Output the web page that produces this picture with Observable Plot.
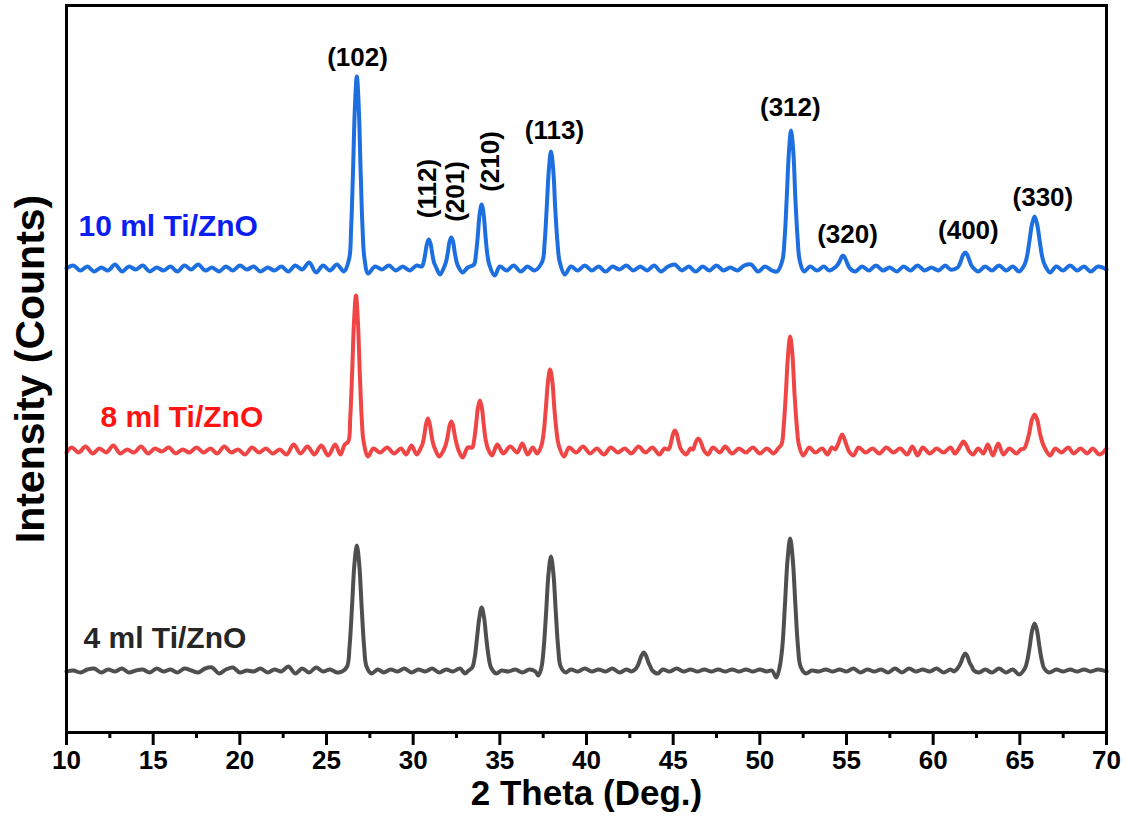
<!DOCTYPE html>
<html><head><meta charset="utf-8">
<script src="https://cdn.jsdelivr.net/npm/d3@7"></script>
<script src="https://cdn.jsdelivr.net/npm/@observablehq/plot@0.6"></script>
<style>html,body{margin:0;padding:0;background:#fff;} svg{display:block}</style>
</head><body><div id="chart"></div>
<script>
// x-axis ticks
const xTicks = [10,15,20,25,30,35,40,45,50,55,60,65,70];
const xMinorTicks = [12.5,17.5,22.5,27.5,32.5,37.5,42.5,47.5,52.5,57.5,62.5,67.5];

// series
const seriesNames = ["10 ml Ti/ZnO", "8 ml Ti/ZnO", "4 ml Ti/ZnO"];
const seriesOffsets = [464, 282, 62];
const seriesColors = ["#1d6fe0", "#f04545", "#4f4f4f"];
const seriesLabelColors = ["#0b1ef2", "#ff1414", "#262626"];
const seriesLabelX = [10.69, 11.96, 10.98];
const seriesLabelY = [506, 315, 94];

// [2 theta, intensity above baseline]
const ti10ml = [[10,0],[10.4,3],[10.8,-2],[11.2,2],[11.6,-3],[12,1],[12.4,-2],[12.8,4],[13.2,-3],[13.6,2],[14,-1],[14.4,3],[14.8,-3],[15.2,1],[15.6,-2],[16,2],[16.4,-3],[16.8,3],[17.2,-1],[17.6,4],[18,-2],[18.4,1],[18.8,-3],[19.2,2],[19.6,-2],[20,3],[20.4,-1],[20.8,2],[21.2,-3],[21.6,1],[22,-2],[22.4,2],[22.8,-3],[23.2,3],[23.6,-1],[24,6],[24.4,-4],[24.8,3],[25.2,-2],[25.6,4],[26,-3],
[26.31,10],[26.42,40],[26.53,97],[26.64,162],[26.75,192],[26.86,162],[26.97,97],[27.08,40],[27.19,10],
[27.4,-5],[27.8,2],[28.2,-1],[28.6,3],[29,-2],[29.4,2],[29.8,-2],[30.2,3],
[30.5,2],[30.6,6],[30.7,15],[30.8,25],[30.9,29],[31,25],[31.1,15],[31.2,6],[31.3,2],
[31.55,-6],
[31.8,2],[31.9,7],[32,16],[32.1,27],[32.2,31],[32.3,27],[32.4,16],[32.5,7],[32.6,2],
[32.85,-4],[33.15,1],
[33.51,4],[33.62,14],[33.73,33],[33.84,55],[33.95,64],[34.06,55],[34.17,33],[34.28,14],[34.39,4],
[34.7,-7],[35,2],[35.4,-2],[35.8,3],[36.2,-3],[36.6,2],[37,-2],
[37.45,7],[37.58,25],[37.7,59],[37.83,99],[37.95,117],[38.08,99],[38.2,59],[38.33,25],[38.45,7],
[38.75,-6],[39.1,2],[39.5,-2],[39.9,3],[40.3,-2],[40.7,2],[41.1,-3],[41.5,2],[41.9,-1],[42.3,3],[42.7,-2],[43.1,2],[43.5,-2],[43.9,3],[44.3,-3],[44.7,2],[45.1,4],[45.5,-2],[45.9,2],[46.3,-3],[46.7,2],[47.1,-2],[47.5,3],[47.9,-2],[48.3,1],[48.7,-2],[49.1,3],[49.5,4],[49.9,-3],[50.3,2],[50.7,-2],[51,-3],
[51.3,8],[51.43,30],[51.55,70],[51.68,117],[51.8,138],[51.93,117],[52.05,70],[52.18,30],[52.3,8],
[52.55,-3],[52.9,2],[53.3,-2],[53.7,2],[54,-2],
[54.4,2],[54.5,4],[54.6,7],[54.7,11],[54.8,13],[54.9,11],[55,7],[55.1,3],[55.2,0],
[55.5,-3],[55.9,2],[56.3,-2],[56.7,3],[57.1,-2],[57.5,1],[57.9,-3],[58.3,2],[58.7,-2],[59.1,3],[59.5,-2],[59.9,1],[60.3,-2],[60.7,3],[61,-1],
[61.41,1],[61.52,4],[61.63,9],[61.74,14],[61.85,16],[61.96,14],[62.07,9],[62.18,4],[62.29,1],
[62.6,-3],[63,2],[63.4,-2],[63.8,3],[64.2,-2],[64.6,2],[64.95,-3],
[65.25,3],[65.4,11],[65.55,27],[65.7,44],[65.85,52],[66,44],[66.15,27],[66.3,11],[66.45,3],
[66.75,-4],[67.1,2],[67.5,-2],[67.9,3],[68.3,-2],[68.7,2],[69.1,-3],[69.5,2],[70,-1]];

const ti8ml = [[10,-2],[10.3,3],[10.7,-2],[11.1,4],[11.5,-3],[11.9,2],[12.3,-2],[12.7,5],[13.1,-3],[13.5,1],[13.9,-2],[14.3,4],[14.7,-3],[15.1,2],[15.5,-1],[15.9,3],[16.3,-3],[16.7,1],[17.1,-2],[17.5,3],[17.9,-2],[18.3,2],[18.7,-3],[19.1,4],[19.5,-2],[19.9,1],[20.3,-4],[20.7,3],[21.1,-2],[21.5,2],[21.9,-3],[22.3,1],[22.7,-4],[23.1,6],[23.5,-3],[23.9,4],[24.3,-4],[24.7,5],[25.1,-5],[25.5,6],[25.8,-4],[26.05,6],
[26.26,9],[26.37,33],[26.48,78],[26.59,130],[26.7,155],[26.81,130],[26.92,78],[27.03,33],[27.14,9],
[27.4,-6],[27.7,2],[28.1,-2],[28.5,3],[28.9,-3],[29.3,2],[29.6,-4],[29.9,5],[30.2,-4],
[30.45,3],[30.55,7],[30.65,16],[30.75,27],[30.85,32],[30.95,27],[31.05,16],[31.15,7],[31.25,2],
[31.5,-6],
[31.8,2],[31.9,7],[32,15],[32.1,25],[32.2,29],[32.3,25],[32.4,15],[32.5,7],[32.6,1],
[32.85,-7],[33.15,3],
[33.41,3],[33.52,11],[33.63,26],[33.74,43],[33.85,50],[33.96,43],[34.07,26],[34.18,11],[34.29,3],
[34.55,-5],[34.85,6],[35.2,-3],[35.6,4],[36,-2],[36.3,7],[36.6,-4],[36.9,3],[37.15,-3],
[37.4,5],[37.53,18],[37.65,41],[37.78,69],[37.9,81],[38.03,69],[38.15,41],[38.28,18],[38.4,5],
[38.7,-6],[39,3],[39.4,-2],[39.8,4],[40.2,-3],[40.6,2],[41,-4],[41.4,3],[41.8,-2],[42.2,2],[42.6,-3],[43,4],[43.4,-2],[43.8,3],[44.2,-4],[44.5,2],
[44.7,1],[44.8,3],[44.9,10],[45,17],[45.1,20],[45.2,17],[45.3,10],[45.4,3],[45.5,0],
[45.75,-4],[46,2],
[46.15,1],[46.25,6],[46.35,10],[46.45,12],[46.55,10],[46.65,6],[46.75,1],
[47,-4],[47.3,3],[47.7,-2],[48,4],[48.4,-3],[48.8,2],[49.2,-2],[49.6,3],[50,-3],[50.4,2],[50.8,-3],[51.05,2],
[51.25,6],[51.38,25],[51.5,57],[51.63,96],[51.75,114],[51.88,96],[52,57],[52.13,25],[52.25,6],
[52.5,-5],[52.85,3],[53.2,-2],[53.6,2],[53.9,-4],[54.15,3],
[54.35,1],[54.45,4],[54.55,8],[54.65,13],[54.75,16],[54.85,13],[54.95,8],[55.05,3],[55.15,-1],
[55.4,-5],[55.7,3],[56.1,-2],[56.5,2],[56.9,-3],[57.3,3],[57.7,-2],[58.1,2],[58.5,-4],[58.8,4],[59.1,-5],[59.4,3],[59.8,-3],[60.2,2],[60.6,-2],[61,3],[61.25,-3],
[61.45,1],[61.55,4],[61.65,7],[61.75,9],[61.85,7],[61.95,4],[62.05,0],
[62.3,-4],[62.6,2],[62.9,-3],[63.15,6],[63.45,-5],[63.75,7],[64.05,-4],[64.4,2],[64.8,-3],[65.05,1],
[65.25,2],[65.4,8],[65.55,18],[65.7,31],[65.85,36],[66,31],[66.15,18],[66.3,8],[66.45,2],
[66.75,-5],[67.05,2],[67.4,-2],[67.8,3],[68.1,-3],[68.5,2],[68.9,-3],[69.2,2],[69.6,-4],[70,2]];

const ti4ml = [[10,-1],[10.4,0],[10.8,-2],[11.2,1],[11.6,2],[12,-2],[12.4,1],[12.8,-1],[13.2,2],[13.6,-2],[14,0],[14.4,1],[14.8,-2],[15.2,2],[15.6,-1],[16,1],[16.4,-2],[16.8,2],[17.2,0],[17.6,-2],[18,2],[18.4,3],[18.8,-3],[19.2,1],[19.6,3],[20,-2],[20.4,0],[20.8,-1],[21.2,2],[21.6,-2],[22,1],[22.4,-1],[22.8,4],[23.2,-3],[23.6,2],[24,-2],[24.4,3],[24.8,-1],[25.2,1],[25.6,-2],[25.9,-1],
[26.19,4],[26.33,24],[26.47,63],[26.61,106],[26.75,125],[26.89,106],[27.03,63],[27.17,24],[27.31,4],
[27.6,-3],[27.95,1],[28.3,-2],[28.7,1],[29.1,-1],[29.5,2],[29.9,-2],[30.3,1],[30.7,-1],[31.1,2],[31.5,-2],[31.9,1],[32.3,-1],[32.7,2],[33,-3],[33.2,0],
[33.41,3],[33.55,13],[33.68,32],[33.82,53],[33.95,63],[34.09,53],[34.22,32],[34.36,13],[34.49,3],
[34.8,-3],[35.1,0],[35.5,-1],[35.9,1],[36.3,-2],[36.7,1],[37.05,-1],[37.22,-5],
[37.4,3],[37.53,22],[37.67,58],[37.81,97],[37.95,114],[38.09,97],[38.23,58],[38.37,22],[38.51,4],
[38.8,-2],[39.1,1],[39.5,-1],[39.9,2],[40.3,-1],[40.7,1],[41.1,-1],[41.5,2],[41.9,-2],[42.3,1],[42.6,-1],
[42.8,1],[42.93,4],[43.05,9],[43.18,15],[43.3,18],[43.43,15],[43.55,9],[43.68,4],[43.8,0],
[44.1,-3],[44.4,1],[44.8,-1],[45.2,2],[45.6,-1],[46,1],[46.4,-1],[46.8,1],[47.2,-1],[47.6,1],[48,-1],[48.4,1],[48.8,-1],[49.2,1],[49.6,-1],[50,1],[50.4,-1],[50.7,0],[50.95,-7],
[51.15,4],[51.3,24],[51.45,66],[51.6,111],[51.75,132],[51.9,111],[52.05,66],[52.2,24],[52.35,4],
[52.65,-3],[53,0],[53.4,-1],[53.8,1],[54.2,-1],[54.6,1],[55,-1],[55.4,2],[55.8,-2],[56.2,1],[56.6,-1],[57,1],[57.4,-2],[57.8,2],[58.2,-2],[58.6,2],[59,-1],[59.4,1],[59.8,-1],[60.2,2],[60.6,-2],[61,1],[61.2,-1],
[61.35,1],[61.48,4],[61.6,8],[61.73,14],[61.85,17],[61.98,14],[62.1,8],[62.23,4],[62.35,0],
[62.65,-2],[63,1],[63.4,-2],[63.8,2],[64.2,-2],[64.6,1],[64.95,-4],
[65.29,2],[65.43,10],[65.57,24],[65.71,40],[65.85,47],[65.99,40],[66.13,24],[66.27,10],[66.41,2],
[66.7,-2],[67.1,1],[67.5,-1],[67.9,1],[68.3,-1],[68.7,1],[69.1,-1],[69.5,1],[70,-1]];

const seriesData = [ti10ml, ti8ml, ti4ml];

// peak (hkl) labels
const peakLabels = ["(102)","(112)","(201)","(210)","(113)","(312)","(320)","(400)","(330)"];
const peakLabelX = [26.79, 30.83, 32.44, 34.46, 38.15, 51.76, 55.06, 62.03, 66.33];
const peakLabelY = [675, 544, 541, 571, 602, 625, 498, 502, 535];
const peakLabelRotate = [0, -90, -90, -90, 0, 0, 0, 0, 0];

const lineRows = seriesData.map((arr, i) => arr.map(([x, v]) => ({x, y: v + seriesOffsets[i]})));

const chart = Plot.plot({
  width: 1134, height: 827,
  marginLeft: 66, marginRight: 28, marginTop: 5, marginBottom: 95,
  x: {domain: [10, 70]},
  y: {domain: [0, 727], axis: null},
  style: {fontFamily: "'Liberation Sans', Arial, sans-serif", fontWeight: "bold", background: "white", color: "black"},
  marks: [
    ...lineRows.map((rows, i) => Plot.line(rows, {x: "x", y: "y", stroke: seriesColors[i], strokeWidth: 4, curve: "catmull-rom"})),
    Plot.frame({stroke: "black", strokeWidth: 3}),
    Plot.axisX({ticks: xTicks, tickSize: 13, strokeWidth: 3, label: null, tickFormat: () => ""}),
    Plot.axisX({ticks: xMinorTicks, tickSize: 6, strokeWidth: 3, label: null, tickFormat: () => ""}),
    Plot.text(xTicks, {x: d => d, frameAnchor: "bottom", dy: 36, text: d => String(d), fontSize: 26, fontWeight: "bold", fill: "black"}),
    Plot.text(peakLabels.map((t, i) => ({t, x: peakLabelX[i], y: peakLabelY[i], r: peakLabelRotate[i]})),
      {x: "x", y: "y", text: "t", rotate: "r", fontSize: 26, fontWeight: "bold", fill: "black"}),
    ...seriesNames.map((name, i) => Plot.text([name], {x: () => seriesLabelX[i], y: () => seriesLabelY[i], text: d => d, textAnchor: "start", fontSize: 30, fontWeight: "bold", fill: seriesLabelColors[i]})),
    Plot.text(["2 Theta (Deg.)"], {frameAnchor: "bottom", dy: 72, text: d => d, fontSize: 35, fontWeight: "bold", fill: "black"}),
    Plot.text(["Intensity (Counts)"], {frameAnchor: "left", textAnchor: "middle", dx: -36, rotate: -90, text: d => d, fontSize: 41, fontWeight: "bold", fill: "black"})
  ]
});
document.getElementById("chart").appendChild(chart);
</script>
</body></html>
